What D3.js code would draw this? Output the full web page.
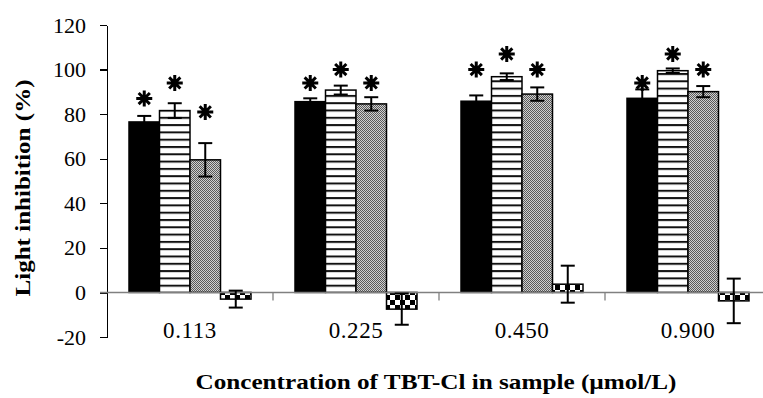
<!DOCTYPE html>
<html>
<head>
<meta charset="utf-8">
<script src="https://d3js.org/d3.v7.min.js"></script>
<style>
body { margin: 0; background: #fff; }
.axis path, .axis line { fill: none; stroke: black; stroke-width: 1.3; shape-rendering: crispEdges; }
.axis text { font-family: "Liberation Serif", "Times New Roman", serif; font-size: 22px; fill: black; }
</style>
</head>
<body>
<div id="chart"></div>
<script>
// data
var concentrations = ["0.113", "0.225", "0.450", "0.900"];
var seriesNames = ["s1", "s2", "s3", "s4"];
var s1Values = [76.5, 85.6, 85.8, 87.1];
var s1Errors = [2.7, 1.5, 2.6, 4.0];
var s2Values = [81.6, 90.8, 96.8, 99.5];
var s2Errors = [3.3, 2.0, 1.5, 1.0];
var s3Values = [59.5, 84.6, 89.0, 90.1];
var s3Errors = [7.5, 3.0, 3.0, 2.5];
var s4Values = [-3.0, -7.5, 3.7, -3.8];
var s4Errors = [3.8, 7.0, 8.3, 10.0];
// level of the significance asterisks (only first three series)
var starLevels = [[87, 94, 81], [94, 100, 94], [100, 107, 100], [94, 107, 100]];
var yTicks = [-20, 0, 20, 40, 60, 80, 100, 120];

var allValues = [s1Values, s2Values, s3Values, s4Values];
var allErrors = [s1Errors, s2Errors, s3Errors, s4Errors];

var W = 763, H = 398;
var svg = d3.select("#chart").append("svg")
    .attr("width", W).attr("height", H);

// patterns
var defs = svg.append("defs");
var stripes = defs.append("pattern").attr("id", "stripes")
    .attr("patternUnits", "userSpaceOnUse").attr("width", 8).attr("height", 7.3);
stripes.append("rect").attr("width", 8).attr("height", 7.3).attr("fill", "white");
stripes.append("rect").attr("y", 0).attr("width", 8).attr("height", 2).attr("fill", "#111");

var dots = defs.append("pattern").attr("id", "dots")
    .attr("patternUnits", "userSpaceOnUse").attr("width", 2).attr("height", 2);
dots.append("rect").attr("width", 2).attr("height", 2).attr("fill", "#d0d0d0");
dots.append("rect").attr("width", 1).attr("height", 1).attr("fill", "#5a5a5a");
dots.append("rect").attr("x", 1).attr("y", 1).attr("width", 1).attr("height", 1).attr("fill", "#5a5a5a");

var checks = defs.append("pattern").attr("id", "checks")
    .attr("patternUnits", "userSpaceOnUse").attr("width", 10).attr("height", 10);
checks.append("rect").attr("width", 10).attr("height", 10).attr("fill", "white");
checks.append("rect").attr("width", 5).attr("height", 5).attr("fill", "black");
checks.append("rect").attr("x", 5).attr("y", 5).attr("width", 5).attr("height", 5).attr("fill", "black");

var fills = ["black", "url(#stripes)", "url(#dots)", "url(#checks)"];

// scales
var x0 = d3.scaleBand().domain(concentrations).range([107, 771]).paddingInner(0);
var x1 = d3.scaleBand().domain(seriesNames).range([22, x0.bandwidth() - 22]);
var y = d3.scaleLinear().domain([-20, 120]).range([337, 25]);

// y axis
svg.append("g")
    .attr("class", "axis")
    .attr("transform", "translate(107,0)")
    .call(d3.axisLeft(y).tickValues(yTicks).tickSize(7).tickSizeOuter(0).tickPadding(14)
        .tickFormat(function(d) { return String(d); }));

// rows of data
var rows = [];
concentrations.forEach(function(c, i) {
    seriesNames.forEach(function(s, j) {
        rows.push({ cat: c, ser: s, j: j, v: allValues[j][i], e: allErrors[j][i],
                    star: j < 3 ? starLevels[i][j] : null });
    });
});

// bars
svg.append("g").selectAll("rect")
    .data(rows).enter().append("rect")
    .attr("x", function(d) { return x0(d.cat) + x1(d.ser); })
    .attr("y", function(d) { return y(Math.max(0, d.v)); })
    .attr("width", x1.bandwidth())
    .attr("height", function(d) { return Math.abs(y(d.v) - y(0)); })
    .attr("fill", function(d) { return fills[d.j]; })
    .attr("stroke", "black")
    .attr("stroke-width", 1.5);

// zero line
svg.append("line")
    .attr("x1", 100).attr("x2", 771)
    .attr("y1", y(0)).attr("y2", y(0))
    .attr("stroke", "#808080").attr("stroke-width", 1.5);

// small category ticks under the zero line
svg.append("g").selectAll("line")
    .data(concentrations.slice(1)).enter().append("line")
    .attr("x1", function(d) { return x0(d); })
    .attr("x2", function(d) { return x0(d); })
    .attr("y1", y(0)).attr("y2", y(0) + 8)
    .attr("stroke", "#808080").attr("stroke-width", 1.3);

// error bars
var eb = svg.append("g").attr("stroke", "black").attr("stroke-width", 2);
rows.forEach(function(d) {
    var cx = x0(d.cat) + x1(d.ser) + x1.bandwidth() / 2;
    eb.append("line").attr("x1", cx).attr("x2", cx)
        .attr("y1", y(d.v + d.e)).attr("y2", y(d.v - d.e));
    eb.append("line").attr("x1", cx - 7).attr("x2", cx + 7)
        .attr("y1", y(d.v + d.e)).attr("y2", y(d.v + d.e));
    eb.append("line").attr("x1", cx - 7).attr("x2", cx + 7)
        .attr("y1", y(d.v - d.e)).attr("y2", y(d.v - d.e));
});

// asterisks
var st = svg.append("g").attr("stroke", "black").attr("stroke-width", 3).attr("fill", "none");
rows.filter(function(d) { return d.star !== null; }).forEach(function(d) {
    var cx = x0(d.cat) + x1(d.ser) + x1.bandwidth() / 2;
    var cy = y(d.star);
    var r = 8;
    st.append("path").attr("d",
        "M" + (cx - r) + "," + cy + "H" + (cx + r) +
        "M" + cx + "," + (cy - r) + "V" + (cy + r) +
        "M" + (cx - r * 0.7) + "," + (cy - r * 0.7) + "L" + (cx + r * 0.7) + "," + (cy + r * 0.7) +
        "M" + (cx - r * 0.7) + "," + (cy + r * 0.7) + "L" + (cx + r * 0.7) + "," + (cy - r * 0.7));
});

// category labels
svg.append("g").selectAll("text")
    .data(concentrations).enter().append("text")
    .attr("x", function(d) { return x0(d) + x0.bandwidth() / 2; })
    .attr("y", 338)
    .attr("text-anchor", "middle")
    .style("font-family", "'Liberation Serif', serif")
    .style("font-size", "23px")
    .style("letter-spacing", "0.6px")
    .text(function(d) { return d; });

// axis titles
svg.append("text")
    .attr("x", 436).attr("y", 389)
    .attr("text-anchor", "middle")
    .attr("textLength", 481)
    .attr("lengthAdjust", "spacingAndGlyphs")
    .style("font-family", "'Liberation Serif', serif")
    .style("font-weight", "bold")
    .style("font-size", "22px")
    .text("Concentration of TBT-Cl in sample (µmol/L)");

svg.append("text")
    .attr("transform", "translate(30,188) rotate(-90)")
    .attr("text-anchor", "middle")
    .attr("textLength", 217)
    .attr("lengthAdjust", "spacingAndGlyphs")
    .style("font-family", "'Liberation Serif', serif")
    .style("font-weight", "bold")
    .style("font-size", "22px")
    .text("Light inhibition (%)");
</script>
</body>
</html>
